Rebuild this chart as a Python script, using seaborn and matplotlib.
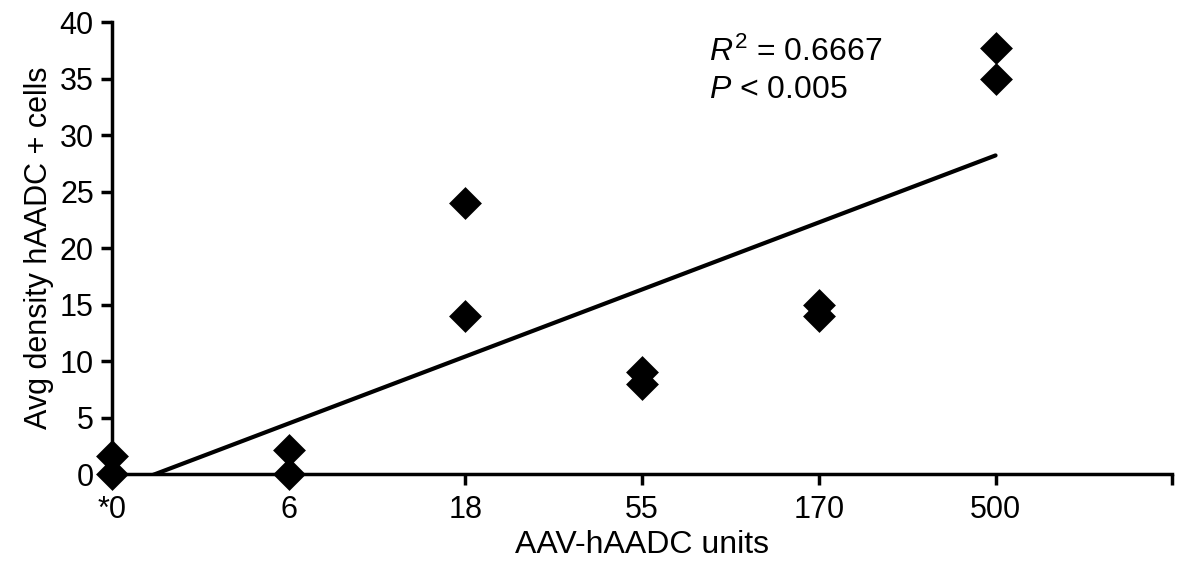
import pandas as pd
import seaborn as sns
import matplotlib.pyplot as plt

# data
dose_labels = ['*0', '6', '18', '55', '170', '500']
dose_idx = [0, 0, 1, 1, 2, 2, 3, 3, 4, 4, 5, 5]
density = [0.0, 1.6, 0.0, 2.1, 24.0, 14.0, 9.0, 8.0, 15.0, 14.0, 37.7, 35.0]

df = pd.DataFrame({'dose': dose_idx, 'density': density})

sns.set_style('ticks')
plt.rcParams['font.family'] = ['Liberation Sans', 'DejaVu Sans']
plt.rcParams['mathtext.fontset'] = 'custom'
plt.rcParams['mathtext.rm'] = 'Liberation Sans'
plt.rcParams['mathtext.it'] = 'Liberation Sans:italic'
plt.rcParams['text.color'] = 'black'
plt.rcParams['axes.labelcolor'] = 'black'
plt.rcParams['xtick.color'] = 'black'
plt.rcParams['ytick.color'] = 'black'

fig = plt.figure(figsize=(11.77, 5.65), dpi=100)
ax = fig.add_axes([0.095, 0.161, 0.901, 0.800])

# regression line through the points
sns.regplot(data=df, x='dose', y='density', scatter=False, ci=None,
            line_kws={'color': 'black', 'lw': 3}, ax=ax)
sns.scatterplot(data=df, x='dose', y='density', marker='D', s=280,
                color='black', edgecolor='black', linewidth=0, ax=ax,
                clip_on=False, zorder=5)

ax.set_xlim(0, 6)
ax.set_ylim(0, 40)
ax.set_xticks(range(7))
ax.set_xticklabels(dose_labels + [''])
ax.set_yticks(range(0, 41, 5))
ax.tick_params(axis='both', labelsize=22, length=8, width=2.5)
ax.tick_params(axis='y', pad=5)
ax.tick_params(axis='x', pad=7)
for side in ['left', 'bottom']:
    ax.spines[side].set_linewidth(2.5)
    ax.spines[side].set_color('black')
sns.despine(ax=ax)

ax.set_xlabel('AAV-hAADC units', fontsize=23, labelpad=4)
ax.set_ylabel('Avg density hAADC + cells', fontsize=22, labelpad=4)

ax.text(3.38, 37.3, r'$R^2$ = 0.6667', fontsize=23, va='center')
ax.text(3.38, 34.0, r'$P$ < 0.005', fontsize=23, va='center')

plt.savefig('out.png', dpi=100)
